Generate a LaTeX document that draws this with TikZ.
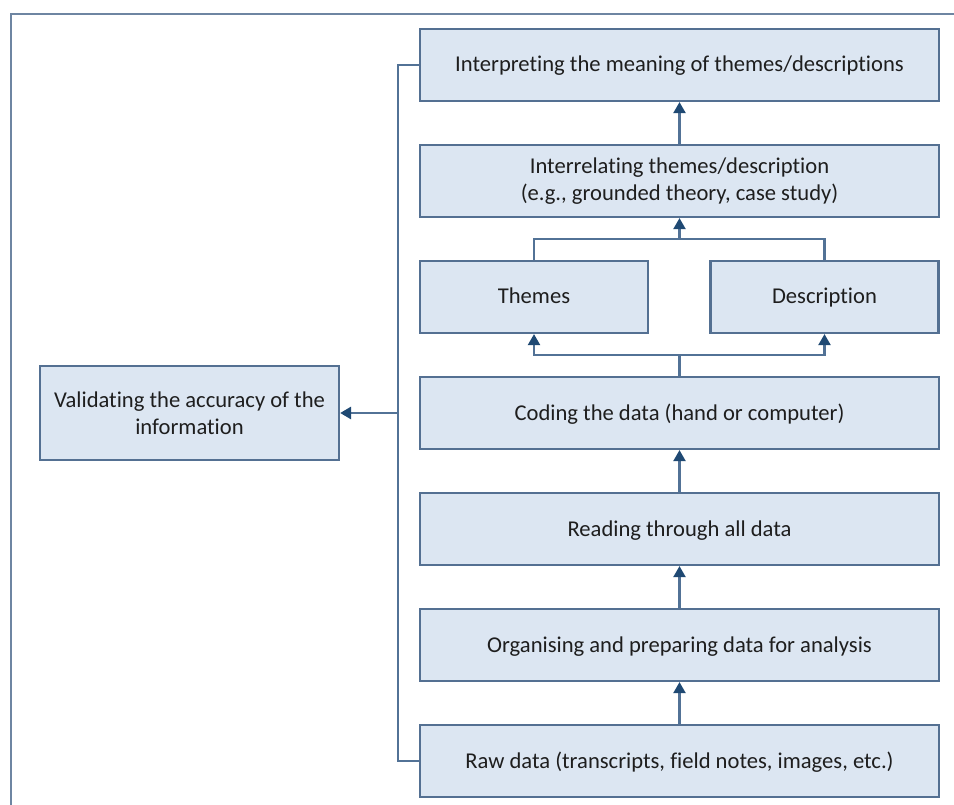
\documentclass[tikz,border=0pt]{standalone}
\usepackage{fontspec}
\setmainfont{Carlito}[Ligatures={NoCommon}]
\usetikzlibrary{arrows.meta}
\definecolor{boxfill}{RGB}{220,230,242}
\definecolor{boxline}{RGB}{84,112,146}
\definecolor{linkline}{RGB}{82,114,150}
\definecolor{tipcol}{RGB}{31,73,115}
\definecolor{textcol}{RGB}{30,30,30}
\begin{document}
\begin{tikzpicture}[x=1pt,y=1pt,
  stepbox/.style={draw=boxline, line width=2.2pt, fill=boxfill, text=textcol,
    minimum height=72pt, inner sep=0pt, align=center,
    font=\fontsize{22.6}{27.5}\selectfont},
  oneline/.style={text height=16pt, text depth=2pt},
  widebox/.style={stepbox, minimum width=519pt},
  halfbox/.style={stepbox, oneline, minimum width=228pt},
  link/.style={draw=linkline, line width=2.2pt},
  arr/.style={link, -{Triangle[width=12pt,length=11pt,color=tipcol]}}
]
\useasboundingbox (0,0) rectangle (954,-805);
% outer frame
\draw[draw=boxline!85, line width=2.2pt] (11,-805) -- (11,-14) -- (954,-14);

% main column of steps
\node[widebox, oneline] (interp) at (679.5,-65) {Interpreting the meaning of themes/descriptions};
\node[widebox] (interrel) at (679.5,-181) {Interrelating themes/description\\(e.g., grounded theory, case study)};
\node[halfbox] (themes)   at (534,-297)   {Themes};
\node[halfbox] (desc)     at (824.5,-297) {Description};
\node[widebox, oneline] (code) at (679.5,-413) {Coding the data (hand or computer)};
\node[widebox, oneline] (read) at (679.5,-529) {Reading through all data};
\node[widebox, oneline] (org)  at (679.5,-645) {Organising and preparing data for analysis};
\node[widebox, oneline] (raw)  at (679.5,-761) {Raw data (transcripts, field notes, images, etc.)};
\node[stepbox, minimum width=299pt, minimum height=94pt] (valid) at (189.5,-413)
  {Validating the accuracy of the\\information};

% upward arrows between steps
\draw[arr] (raw.north) -- (org.south);
\draw[arr] (org.north) -- (read.south);
\draw[arr] (read.north) -- (code.south);

% split to themes / description
\coordinate (jb) at (679.5,-355);
\draw[link] (code.north) -- (jb);
\draw[arr] (jb) -| (themes.south);
\draw[arr] (jb) -| (desc.south);

% merge into interrelating
\coordinate (jt) at (679.5,-239);
\draw[link] (themes.north) |- (jt);
\draw[link] (desc.north) |- (jt);
\draw[arr] (jt) -- (interrel.south);
\draw[arr] (interrel.north) -- (interp.south);

% validation bus on the left
\coordinate (bus) at (398,-413);
\draw[link] (interp.west) -| (bus) |- (raw.west);
\draw[arr, line width=2.8pt] (bus) -- (valid.east);
\end{tikzpicture}
\end{document}
